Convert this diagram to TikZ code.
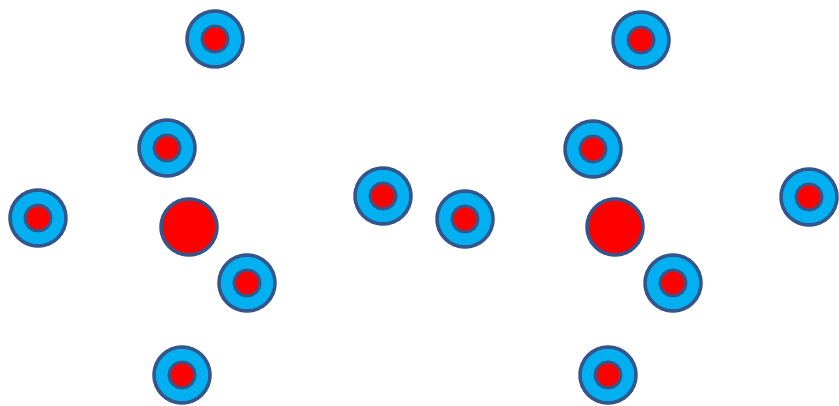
\documentclass[tikz,border=0pt]{standalone}
\usepackage{xcolor}
\usepackage{tikz}
\usetikzlibrary{positioning}
\definecolor{ringblue}{RGB}{0,176,240}
\definecolor{edgeblue}{RGB}{52,86,140}
\definecolor{corered}{RGB}{255,0,0}
\tikzstyle{ring} = [circle, draw=edgeblue, fill=ringblue, line width=3.5pt, minimum size=56pt, inner sep=0pt]
\tikzstyle{core} = [circle, draw=edgeblue, fill=corered, line width=3pt, minimum size=26pt, inner sep=0pt]
\tikzstyle{bigcore} = [circle, draw=edgeblue, fill=corered, line width=3.5pt, minimum size=56pt, inner sep=0pt]

\begin{document}
\begin{tikzpicture}[x=1pt, y=-1pt]
    \useasboundingbox (0,0) rectangle (839,406);

    % Left group
    \node[bigcore] (lbig) at (189,227) {};
    \node[ring] (ltop) at (215,39) {};
    \node[core] at (ltop.center) (ltopc) {};
    \node[ring] (lupper) at (167,148) {};
    \node[core] at (lupper.center) (lupperc) {};
    \node[ring] (lleft) at (38,218) {};
    \node[core] at (lleft.center) (lleftc) {};
    \node[ring] (llower) at (247,283) {};
    \node[core] at (llower.center) (llowerc) {};
    \node[ring] (lbot) at (182,375) {};
    \node[core] at (lbot.center) (lbotc) {};

    % Middle pair
    \node[ring] (mleft) at (383,196) {};
    \node[core] at (mleft.center) (mleftc) {};
    \node[ring] (mright) at (465,219) {};
    \node[core] at (mright.center) (mrightc) {};

    % Right group
    \node[bigcore] (rbig) at (615,227) {};
    \node[ring] (rtop) at (641,40) {};
    \node[core] at (rtop.center) (rtopc) {};
    \node[ring] (rupper) at (593,149) {};
    \node[core] at (rupper.center) (rupperc) {};
    \node[ring] (rright) at (809,197) {};
    \node[core] at (rright.center) (rrightc) {};
    \node[ring] (rlower) at (673,283) {};
    \node[core] at (rlower.center) (rlowerc) {};
    \node[ring] (rbot) at (608,375) {};
    \node[core] at (rbot.center) (rbotc) {};
\end{tikzpicture}
\end{document}
